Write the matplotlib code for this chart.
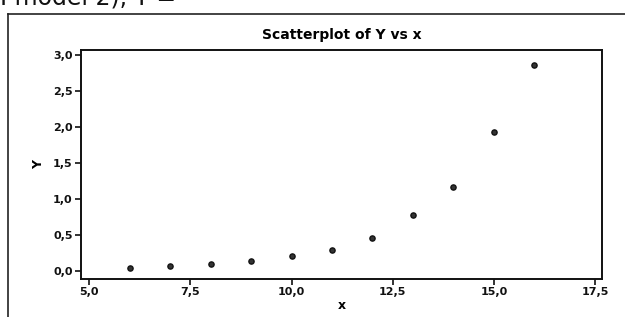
import matplotlib
matplotlib.use("Agg")
import matplotlib.pyplot as plt
from matplotlib.lines import Line2D

x_vals = [6, 7, 8, 9, 10, 11, 12, 13, 14, 15, 16]
y_vals = [0.048, 0.076, 0.104, 0.15, 0.215, 0.298, 0.468, 0.787, 1.17, 1.93, 2.86]
x_ticks = [5.0, 7.5, 10.0, 12.5, 15.0, 17.5]
y_ticks = [0.0, 0.5, 1.0, 1.5, 2.0, 2.5, 3.0]
x_tick_labels = ["5,0", "7,5", "10,0", "12,5", "15,0", "17,5"]
y_tick_labels = ["0,0", "0,5", "1,0", "1,5", "2,0", "2,5", "3,0"]

plt.rcParams['font.family'] = ['DejaVu Sans']

fig = plt.figure(figsize=(6.25, 3.17), dpi=100)
fig.patch.set_facecolor('white')

W, H = 625, 317
ax = fig.add_axes([81 / W, 1 - 279 / H, (602 - 81) / W, (279 - 50) / H])

ax.scatter(x_vals, y_vals, s=14, color='#333333', edgecolors='#111111',
           linewidths=1.0, zorder=3)

ax.set_xlim(4.8, 17.67)
ax.set_ylim(-0.105, 3.07)
ax.set_xticks(x_ticks)
ax.set_xticklabels(x_tick_labels)
ax.set_yticks(y_ticks)
ax.set_yticklabels(y_tick_labels)

for s in ax.spines.values():
    s.set_linewidth(1.4)
    s.set_color('#111111')

ax.tick_params(axis='both', direction='out', length=4, width=1.2,
               labelsize=8, pad=2, colors='#111111')
ax.tick_params(top=False, right=False)
for lab in ax.get_xticklabels() + ax.get_yticklabels():
    lab.set_fontweight('bold')

ax.set_title("Scatterplot of Y vs x", fontsize=10, fontweight='bold', pad=8)
ax.set_xlabel("x", fontsize=9, fontweight='bold', labelpad=1)
ax.set_ylabel("Y", fontsize=9, fontweight='bold', labelpad=6)

# outer frame of the scanned graph window
fig.add_artist(Line2D([8 / W, 1.0], [1 - 13.5 / H, 1 - 13.5 / H],
                      transform=fig.transFigure, color='#222222', lw=1.2))
fig.add_artist(Line2D([8 / W, 8 / W], [0.0, 1 - 13.5 / H],
                      transform=fig.transFigure, color='#222222', lw=1.2))

# clipped heading text at the very top of the scan
fig.text(0.0, 1 - 4 / H, "I model 2), Y = ", fontsize=17, color='#111111',
         ha='left', va='baseline')

fig.savefig("out.png", dpi=100, facecolor='white')
